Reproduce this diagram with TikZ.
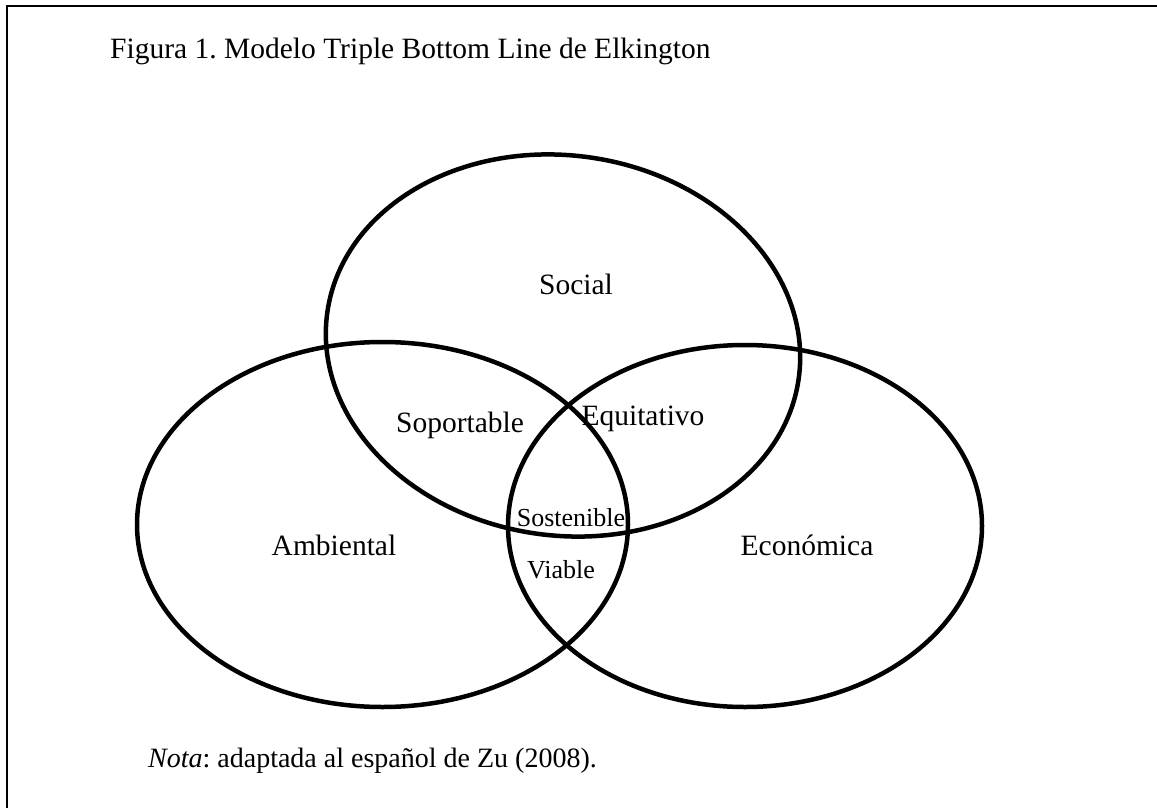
\documentclass[tikz,border=0pt]{standalone}
\usepackage{fontspec}
\setmainfont{Liberation Serif}
\usetikzlibrary{shapes.geometric}
\frenchspacing
\begin{document}
\begin{tikzpicture}[x=1pt,y=-1pt,
  ring/.style={draw=black,line width=4.5pt,ellipse,inner sep=0pt,outer sep=0pt},
  big/.style={inner sep=0pt,anchor=base,font=\fontsize{29.5}{34}\selectfont},
  small/.style={inner sep=0pt,anchor=base,font=\fontsize{26}{30}\selectfont}]
\useasboundingbox (0,0) rectangle (1157,808);
\coordinate (tl) at (7,6);
\coordinate (tr) at (1160,6);
\coordinate (bl) at (7,811);
\draw[line width=2pt] (tr) -- (tl) -- (bl);
\node[ring,minimum width=476pt,minimum height=380pt,rotate=-8] (soc) at (563,345.5) {};
\node[ring,minimum width=491pt,minimum height=365pt] (amb) at (382.5,524.5) {};
\node[ring,minimum width=474pt,minimum height=362pt] (eco) at (745,526) {};
\node[big,anchor=base west] (title) at (110,59) {Figura 1. Modelo Triple Bottom Line de Elkington};
\node[big] (lsoc) at (576,294) {Social};
\node[big] (lsop) at (460,432) {Soportable};
\node[big] (lequ) at (643,425) {Equitativo};
\node[small] (lsos) at (571,526) {Sostenible};
\node[small] (lvia) at (561,578) {Viable};
\node[big] (lamb) at (334,555) {Ambiental};
\node[big] (leco) at (807,555) {Económica};
\node[big,anchor=base west,font=\fontsize{28}{32}\selectfont] (nota) at (148,767) {\textit{Nota}: adaptada al español de Zu (2008).};
\end{tikzpicture}
\end{document}
